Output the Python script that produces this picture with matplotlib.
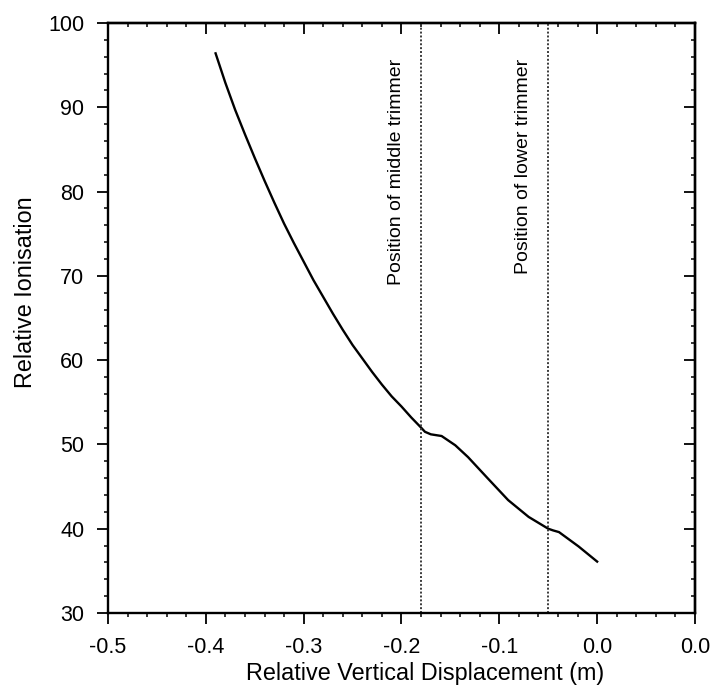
import matplotlib
matplotlib.use("Agg")
import matplotlib.pyplot as plt
from matplotlib.ticker import MultipleLocator, FixedLocator, FixedFormatter

plt.rcParams["font.family"] = ["Liberation Sans", "DejaVu Sans"]

# ionisation profile along the vertical displacement
displacement = [-0.390, -0.380, -0.370, -0.360, -0.350, -0.340, -0.330, -0.320,
                -0.310, -0.300, -0.290, -0.280, -0.270, -0.260, -0.250, -0.240,
                -0.230, -0.220, -0.210, -0.200, -0.190, -0.180, -0.176, -0.170,
                -0.159, -0.145, -0.132, -0.112, -0.091, -0.070, -0.050, -0.045,
                -0.039, -0.019, 0.0]
ionisation = [96.4, 92.9, 89.7, 86.8, 84.0, 81.3, 78.7, 76.2,
              73.9, 71.7, 69.5, 67.5, 65.5, 63.6, 61.8, 60.2,
              58.6, 57.1, 55.7, 54.5, 53.2, 52.0, 51.5, 51.2,
              51.0, 49.9, 48.5, 46.0, 43.4, 41.4, 40.0, 39.8,
              39.6, 37.9, 36.1]

trimmer_pos = [-0.18, -0.05]
trimmer_labels = ["Position of middle trimmer", "Position of lower trimmer"]

xtick_vals = [-0.5, -0.4, -0.3, -0.2, -0.1, 0.0, 0.1]
xtick_text = ["-0.5", "-0.4", "-0.3", "-0.2", "-0.1", "0.0", "0.0"]
ytick_vals = [30, 40, 50, 60, 70, 80, 90, 100]

fig = plt.figure(figsize=(7.15, 6.97), dpi=100)
ax = fig.add_axes([0.151, 0.1205, 0.821, 0.8465])

ax.plot(displacement, ionisation, color="black", lw=1.7)

for xp in trimmer_pos:
    ax.axvline(xp, color="#3a3a3a", lw=1.4, ls=(0, (1, 1)))

text_x = [-0.205, -0.075]
for tx, label in zip(text_x, trimmer_labels):
    ax.text(tx, 95.7, label, rotation=90, ha="center", va="top", fontsize=14)

ax.set_xlim(-0.5, 0.1)
ax.set_ylim(30, 100)

ax.xaxis.set_major_locator(FixedLocator(xtick_vals))
ax.xaxis.set_major_formatter(FixedFormatter(xtick_text))
ax.xaxis.set_minor_locator(MultipleLocator(0.02))
ax.yaxis.set_major_locator(FixedLocator(ytick_vals))
ax.yaxis.set_minor_locator(MultipleLocator(2))

ax.tick_params(which="major", direction="out", length=8, width=1.3,
               labelsize=15.5, pad=9)
ax.tick_params(which="minor", direction="out", length=3, width=1.1)

for side in ax.spines.values():
    side.set_linewidth(1.7)

# top and right edges carry inward ticks without labels
top = ax.secondary_xaxis("top")
top.xaxis.set_major_locator(FixedLocator(xtick_vals))
top.xaxis.set_minor_locator(MultipleLocator(0.02))
top.tick_params(which="major", direction="in", length=8, width=1.3, labeltop=False)
top.tick_params(which="minor", direction="in", length=3, width=1.1)
top.spines["top"].set_linewidth(1.7)

right = ax.secondary_yaxis("right")
right.yaxis.set_major_locator(FixedLocator(ytick_vals))
right.yaxis.set_minor_locator(MultipleLocator(2))
right.tick_params(which="major", direction="in", length=8, width=1.3, labelright=False)
right.tick_params(which="minor", direction="in", length=3, width=1.1)
right.spines["right"].set_linewidth(1.7)

ax.set_xlabel("Relative Vertical Displacement (m)", fontsize=16.8)
ax.xaxis.set_label_coords(0.54, -0.083)
ax.set_ylabel("Relative Ionisation", fontsize=16.8)
ax.yaxis.set_label_coords(-0.121, 0.544)

fig.savefig("out.png", dpi=100)
